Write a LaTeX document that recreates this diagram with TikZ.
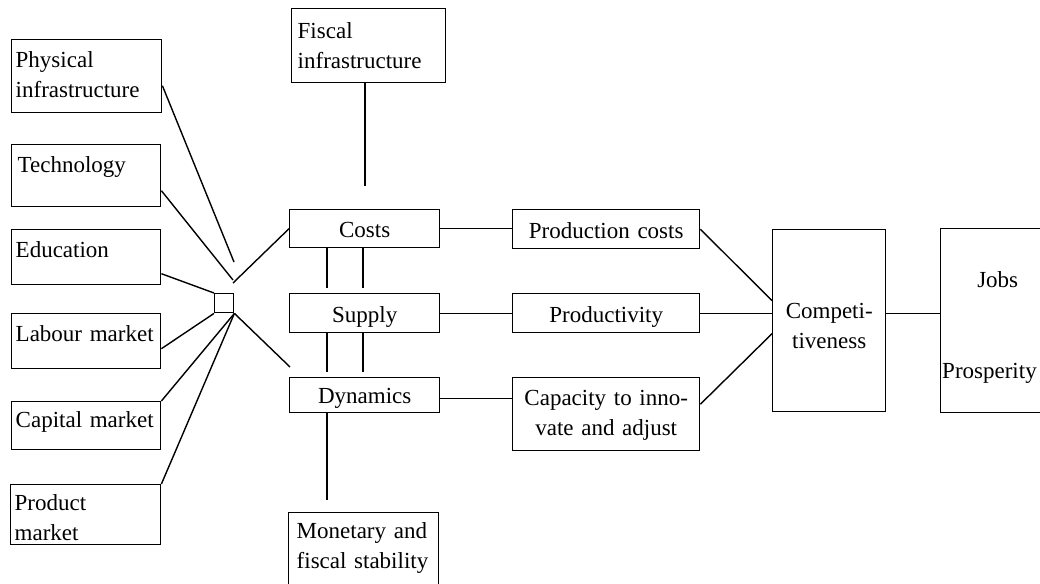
\documentclass[tikz,border=0pt]{standalone}
\usepackage{fontspec}
\setmainfont{Liberation Serif}
\newcommand\dfont{\fontsize{23}{29.5}\selectfont}
\tikzset{
  box/.style={draw, line width=1.4pt, inner ysep=0pt, font=\dfont, anchor=north west},
  lbox/.style={box, align=left, inner xsep=4pt},
  cbox/.style={box, align=center, inner xsep=0pt},
  conn/.style={line width=1.4pt},
}
\begin{document}
\begin{tikzpicture}[x=1pt,y=-1pt]
\useasboundingbox (0,0) rectangle (1040,583);
% left column
\node[lbox, text width=142pt, text height=28pt, text depth=45pt] (phys) at (11,39) {Physical\\\mbox{infrastructure}};
\node[lbox, text width=141pt, text height=28pt, text depth=34pt] (tech) at (11,144) {\hspace*{2pt}Technology};
\node[lbox, text width=141pt, text height=28pt, text depth=27pt] (edu) at (11,229) {Education};
\node[lbox, text width=141pt, text height=28pt, text depth=27pt] (labour) at (11,313) {\mbox{Labour market}};
\node[lbox, text width=141pt, text height=26pt, text depth=22pt] (capital) at (11,401) {\mbox{Capital market}};
\node[lbox, text width=142pt, text height=26pt, text depth=34pt] (product) at (10,484) {Product\\market};
% small junction square
\node[draw, line width=1.4pt, minimum width=19pt, minimum height=19pt, inner sep=0pt, anchor=north west] (sq) at (214,293) {};
% middle column
\node[lbox, text width=142pt, inner xsep=6pt, text height=30pt, text depth=44pt] (fiscal) at (291,8) {Fiscal\\\mbox{infrastructure}};
\node[cbox, text width=150pt, text height=28pt, text depth=10pt] (costs) at (289,209) {Costs};
\node[cbox, text width=150pt, text height=29pt, text depth=10pt] (supply) at (289,293) {Supply};
\node[cbox, text width=150pt, text height=26pt, text depth=9pt] (dyn) at (289,377) {Dynamics};
\node[lbox, text width=134pt, inner xsep=8pt, text height=26pt, text depth=48pt] (monet) at (288,512) {\mbox{Monetary and}\\\mbox{fiscal stability}};
% second column
\node[cbox, text width=187pt, text height=29pt, text depth=10pt] (prodc) at (512,209) {Production costs};
\node[cbox, text width=187pt, text height=29pt, text depth=10pt] (prodv) at (512,293) {Productivity};
\node[cbox, text width=187pt, text height=28pt, text depth=45pt] (cap) at (512,377) {Capacity to inno-\\vate and adjust};
% right
\node[cbox, text width=113pt, text height=89pt, text depth=93pt] (comp) at (772,229) {Competi-\\tiveness};
\node[cbox, text width=114pt, text height=59pt, text depth=125pt] (jobs) at (940,228) {Jobs};
\node[font=\dfont, anchor=base west, inner sep=0pt] (prosp) at (942,378) {Prosperity};
% free ends
\coordinate (p1) at (234,262);
\coordinate (p2) at (233,280);
\coordinate (p3) at (233,283);
\coordinate (p4) at (290,367);
\coordinate (f1) at (365,186);
\coordinate (xa) at (327,0);
\coordinate (xb) at (363,0);
% connectors into the junction
\draw[conn] ([yshift=-9.5pt]phys.east) -- (p1);
\draw[conn] ([yshift=-15pt]tech.east) -- (p2);
\draw[conn] (costs.west) -- (p3);
\draw[conn] ([yshift=-16.5pt]edu.east) -- (sq.north west);
\draw[conn] ([yshift=-7.5pt]labour.east) -- (sq.south west);
\draw[conn] (capital.north east) -- (sq.south east);
\draw[conn] (product.north east) -- (sq.south east);
\draw[conn] (sq.south east) -- (p4);
% verticals
\draw[conn] (fiscal.south -| f1) -- (f1);
\draw[conn, shorten >=5pt] (costs.south -| xa) -- (supply.north -| xa);
\draw[conn, shorten >=5pt] (costs.south -| xb) -- (supply.north -| xb);
\draw[conn, shorten >=5pt] (supply.south -| xa) -- (dyn.north -| xa);
\draw[conn, shorten >=5pt] (supply.south -| xb) -- (dyn.north -| xb);
\draw[conn, shorten >=12pt] (dyn.south -| xa) -- (monet.north -| xa);
% horizontals
\draw[conn] (costs.east) -- (prodc.west |- costs.east);
\draw[conn] (supply.east) -- (prodv.west |- supply.east);
\draw[conn] ([yshift=-3pt]dyn.east) coordinate (d1) -- (cap.west |- d1);
% into competitiveness
\draw[conn] (prodc.east) -- ([yshift=20pt]comp.west);
\draw[conn] (prodv.east) -- (comp.west |- prodv.east);
\draw[conn] ([yshift=10pt]cap.east) -- ([yshift=-13pt]comp.west);
\draw[conn] ([yshift=7pt]comp.east) -- ([yshift=7pt]jobs.west);
\end{tikzpicture}
\end{document}
